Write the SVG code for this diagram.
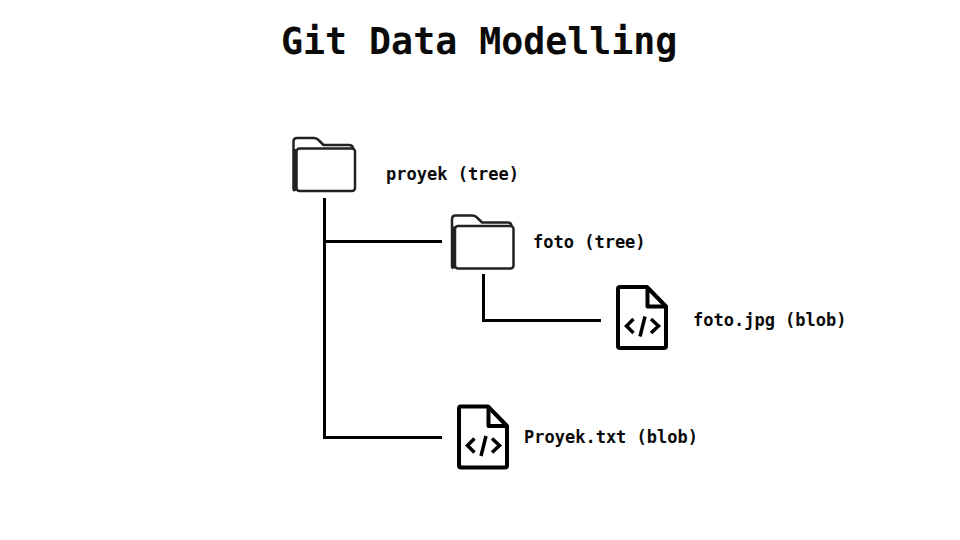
<svg xmlns="http://www.w3.org/2000/svg" width="960" height="540" viewBox="0 0 960 540">
<style>
text{font-family:"DejaVu Sans Mono","Liberation Mono",monospace;font-weight:700;fill:#0a0a0a;white-space:pre}
.t{font-size:36.6px}
.l{font-size:17px}
.c{fill:none;stroke:#000;stroke-width:3}
.f{fill:none;stroke:#222;stroke-width:2.500;stroke-linejoin:round}
.d{fill:none;stroke:#000;stroke-width:4;stroke-linejoin:round;stroke-linecap:round}
.g{fill:none;stroke:#000;stroke-width:3.500;stroke-linejoin:miter;stroke-linecap:butt}
</style>
<defs>
<g id="folder">
<path class="f" d="M2.500 53.500Q1.500 53.500 1.500 51V4.500Q1.500 1 5 1H22Q25 1 27 3.500L31.500 8H57Q60.500 8 61 11"/>
<path d="M1.500 12H4.500V54H1.500Z" fill="#222"/>
<rect class="f" x="4.500" y="11.500" width="58.500" height="42.500" rx="3"/>
</g>
<g id="file">
<path class="d" d="M4 1.500H31L50 21V60.500Q50 62.500 48 62.500H4Q2 62.500 2 60.500V3.500Q2 1.500 4 1.500Z"/>
<path class="d" d="M31.500 2.500V21H49.500"/>
<path class="g" d="M17.500 33.500L10.500 40.500L17.500 47.500M35 33.500L42.500 40.500L35 47.500M29 31L24 51"/>
</g>
</defs>
<text id="title" class="t" x="281" y="53.500">Git Data Modelling</text>
<g id="connectors">
<path class="c" d="M324.500 198V437.500H442"/>
<path class="c" d="M324.500 241.500H442"/>
<path class="c" d="M483.500 274V320.500H601"/>
</g>
<g id="proyek-tree"><use href="#folder" x="292" y="137"/><text class="l" x="386" y="180">proyek (tree)</text></g>
<g id="foto-tree"><use href="#folder" x="450.500" y="214.500"/><text class="l" x="533" y="247.500">foto (tree)</text></g>
<g id="foto-jpg-blob"><use href="#file" x="616" y="285.500"/><text class="l" x="693" y="326">foto.jpg (blob)</text></g>
<g id="proyek-txt-blob"><use href="#file" x="457" y="405"/><text class="l" x="524" y="443">Proyek.txt (blob)</text></g>
</svg>
